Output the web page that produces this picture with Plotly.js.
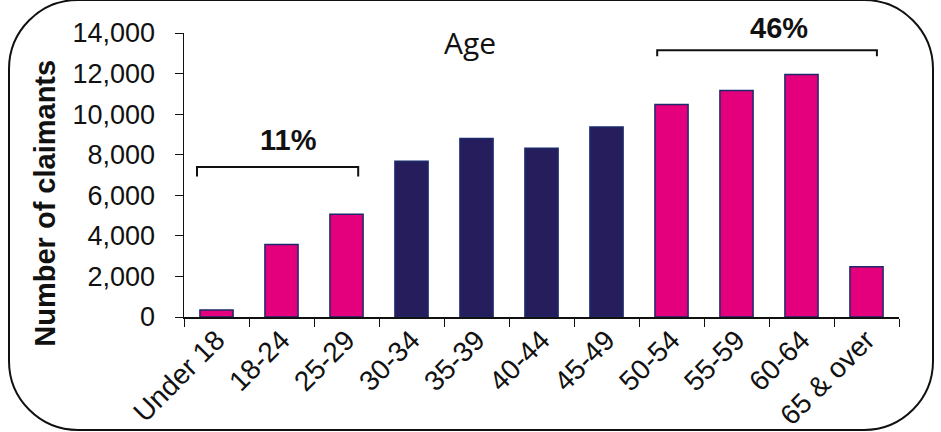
<!DOCTYPE html>
<html>
<head>
<meta charset="utf-8">
<script src="https://cdn.plot.ly/plotly-3.0.1.min.js"></script>
<style>
  html, body { margin: 0; padding: 0; background: #fff; width: 941px; height: 432px; overflow: hidden; }
  #frame { position: absolute; left: 8px; top: -1px; width: 922px; height: 428px; border: 2px solid #111; border-radius: 70px; }
  #chart { position: absolute; left: 0; top: 0; width: 941px; height: 432px; }
</style>
</head>
<body>
<div id="frame"></div>
<div id="chart"></div>
<script>
const categories = ["Under 18", "18-24", "25-29", "30-34", "35-39", "40-44", "45-49", "50-54", "55-59", "60-64", "65 & over"];
const claimants = [350, 3580, 5060, 7680, 8800, 8320, 9370, 10480, 11160, 11960, 2480];
const highlighted = [true, true, true, false, false, false, false, true, true, true, true];
const yTicks = [0, 2000, 4000, 6000, 8000, 10000, 12000, 14000];
const bracketLabels = ["11%", "46%"];
const bracketStart = [-0.3, 6.78];
const bracketEnd = [2.18, 10.16];
const bracketLevel = [7400, 13150];
const bracketDrop = [480, 300];
const labelX = [1.115, 8.66];
const labelLevel = [0.623, 1.016];

const PINK = "#E4007C", NAVY = "#251D5C";

const shapes = [], annotations = [];
for (let i = 0; i < bracketLabels.length; i++) {
  const x0 = bracketStart[i], x1 = bracketEnd[i];
  const y = bracketLevel[i], drop = bracketDrop[i];
  shapes.push({ type: "path", xref: "x", yref: "y",
    path: `M ${x0} ${y - drop} L ${x0} ${y} L ${x1} ${y} L ${x1} ${y - drop}`,
    line: { color: "#111", width: 2 } });
  annotations.push({ x: labelX[i], y: labelLevel[i], xref: "x", yref: "paper", text: bracketLabels[i],
    showarrow: false, xanchor: "center", yanchor: "middle",
    font: { family: "Liberation Sans, Arial", size: 29, color: "#111", weight: "bold" } });
}
annotations.push({ x: 0.4, y: 0.965, xref: "paper", yref: "paper", text: "Age", showarrow: false,
  xanchor: "center", yanchor: "middle",
  font: { family: "Open Sans", size: 30, color: "#111" } });
annotations.push({ x: -0.194, y: 0.40, xref: "paper", yref: "paper", text: "<b>Number of claimants</b>",
  textangle: -90, showarrow: false, xanchor: "center", yanchor: "middle",
  font: { family: "Liberation Sans, Arial", size: 29, color: "#111" } });

const data = [{
  type: "bar", x: categories, y: claimants,
  marker: { color: highlighted.map(h => h ? PINK : NAVY), line: { color: "#1B2A6B", width: 1.5 } },
  hoverinfo: "x+y"
}];

const layout = {
  width: 941, height: 432,
  margin: { l: 184, r: 42, t: 33, b: 115 },
  paper_bgcolor: "rgba(0,0,0,0)", plot_bgcolor: "rgba(0,0,0,0)",
  showlegend: false, bargap: 0.49,
  font: { family: "Liberation Sans, Arial", color: "#111" },
  xaxis: { type: "category", showline: true, linecolor: "#111", linewidth: 1.5, ticks: "outside",
    tickson: "boundaries", ticklen: 8, tickcolor: "#111", tickangle: -45, showgrid: false,
    ticklabelstandoff: -6,
    tickfont: { size: 28, color: "#111" }, automargin: false, fixedrange: true },
  yaxis: { range: [0, 14000], tickvals: yTicks, tickformat: ",d", showline: true, linecolor: "#111",
    linewidth: 1.5, ticks: "outside", ticklen: 8, tickcolor: "#111", showgrid: false, zeroline: false,
    ticklabelstandoff: 14,
    tickfont: { size: 27, color: "#111" }, automargin: false, fixedrange: true },
  shapes: shapes, annotations: annotations
};

Plotly.newPlot("chart", data, layout, { displayModeBar: false, staticPlot: true });
</script>
</body>
</html>
